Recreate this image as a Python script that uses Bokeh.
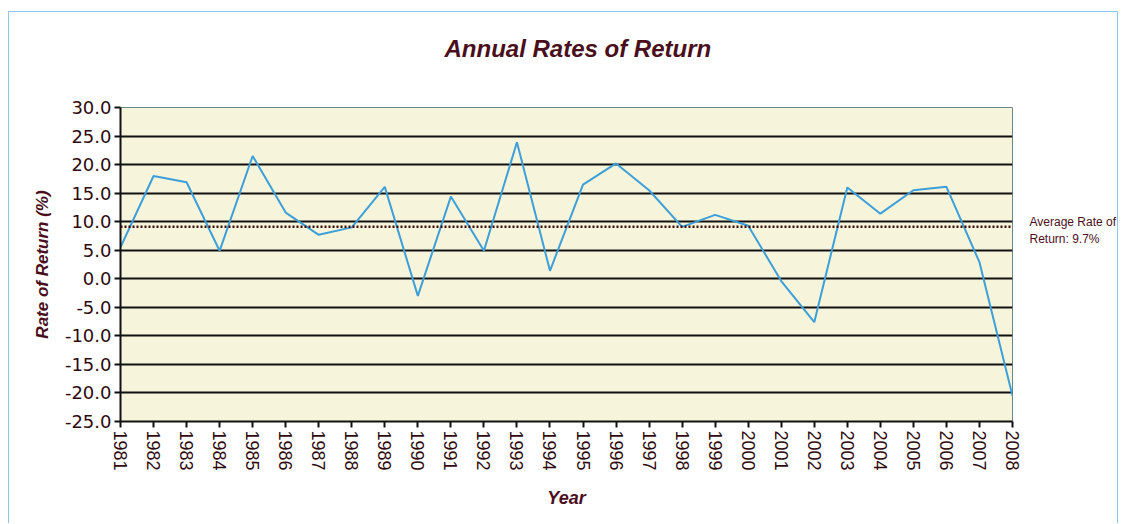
from bokeh.plotting import figure
from bokeh.models import Range1d, FixedTicker, NumeralTickFormatter, Span, LinearAxis
from bokeh.embed import file_html
from bokeh.resources import INLINE

# ---- data ----
years = list(range(1981, 2009))
returns = [5.5, 18.0, 16.9, 4.9, 21.5, 11.6, 7.7, 9.0, 16.1, -3.0,
           14.4, 4.9, 23.9, 1.4, 16.5, 20.2, 15.5, 9.1, 11.2, 9.3,
           -0.4, -7.6, 16.0, 11.4, 15.5, 16.1, 2.9, -20.5]
average_return = 9.7          # value stated in the annotation
average_line_level = 9.1      # where the dotted line is drawn in the picture
y_ticks = [-25, -20, -15, -10, -5, 0, 5, 10, 15, 20, 25, 30]
title_text = "Annual Rates of Return"
x_label = "Year"
y_label = "Rate of Return (%)"
avg_label = "Average Rate of\nReturn: {:.1f}%".format(average_return)

MAROON = "#4a0f1c"
TICK_COLOR = "#2e0a0e"

p = figure(width=1110, height=512, output_backend="svg", toolbar_location=None,
           x_range=Range1d(years[0], years[-1]), y_range=Range1d(y_ticks[0], y_ticks[-1]),
           min_border_left=111, min_border_right=102, min_border_top=95, min_border_bottom=103)

p.styles = {"border-left": "1px solid #8cc8ec", "border-top": "1px solid #8cc8ec",
            "border-right": "1px solid #8cc8ec", "margin-left": "8px", "margin-top": "11px"}

p.border_fill_color = "white"
p.background_fill_color = "#f6f4da"
p.outline_line_color = "#6b8888"
p.outline_line_width = 1

xaxis = p.below[0]
yaxis = p.left[0]

# grid
p.xgrid.grid_line_color = None
p.ygrid.grid_line_color = "#111111"
p.ygrid.grid_line_width = 2
p.ygrid.ticker = FixedTicker(ticks=y_ticks)

# axes
yaxis.ticker = FixedTicker(ticks=y_ticks)
yaxis.formatter = NumeralTickFormatter(format="0.0")
xaxis.ticker = FixedTicker(ticks=years)
for ax in (xaxis, yaxis):
    ax.axis_line_color = "#111111"
    ax.axis_line_width = 2
    ax.major_tick_line_color = "#111111"
    ax.major_tick_line_width = 2
    ax.major_tick_out = 6
    ax.major_tick_in = 0
    ax.minor_tick_line_color = None
    ax.major_label_text_color = TICK_COLOR
    ax.axis_label_text_color = MAROON
    ax.axis_label_text_font = "Liberation Sans"
    ax.axis_label_text_font_style = "bold italic"

yaxis.major_label_text_font = "DejaVu Sans"
yaxis.major_label_text_font_size = "18px"
yaxis.major_label_standoff = 3
yaxis.axis_label = y_label
yaxis.axis_label_text_font_size = "17px"
yaxis.axis_label_standoff = 10

xaxis.major_label_text_font = "Liberation Sans"
xaxis.major_label_text_font_size = "18px"
xaxis.major_label_orientation = "vertical"
xaxis.major_label_standoff = 3
xaxis.axis_label = x_label
xaxis.axis_label_text_font_size = "18px"
xaxis.axis_label_standoff = 14

# empty spacer panel between the frame and the title (one invisible tick, no label)
spacer = LinearAxis(ticker=FixedTicker(ticks=[years[0]]),
                    major_label_overrides={years[0]: ""},
                    axis_line_color=None, major_tick_line_color=None,
                    minor_tick_line_color=None, major_tick_out=41, major_tick_in=0,
                    major_label_standoff=0)
p.add_layout(spacer, "above")

# title
p.title.text = title_text
p.title.align = "left"
p.title.offset = 324
p.title.text_font = "Liberation Sans"
p.title.text_font_style = "bold italic"
p.title.text_font_size = "24px"
p.title.text_color = MAROON

# right-side annotation for the average line (its own range, nudged so the text sits
# slightly below the dotted line as in the picture)
p.extra_y_ranges = {"annot": Range1d(y_ticks[0] + 0.7, y_ticks[-1] + 0.7)}
avg_axis = LinearAxis(y_range_name="annot",
                      ticker=FixedTicker(ticks=[average_line_level]),
                      major_label_overrides={average_line_level: avg_label},
                      axis_line_color=None, major_tick_line_color=None,
                      minor_tick_line_color=None, major_label_standoff=11,
                      major_label_text_font="Liberation Sans",
                      major_label_text_font_size="12px",
                      major_label_text_color=MAROON)
p.add_layout(avg_axis, "right")

# average line
p.add_layout(Span(location=average_line_level, dimension="width", line_color="#3a0a0a",
                  line_width=2.5, line_dash="2 2"))

# data line
p.line(years, returns, line_color="#3d9fd9", line_width=2)

open("out.html", "w").write(file_html(p, INLINE))
